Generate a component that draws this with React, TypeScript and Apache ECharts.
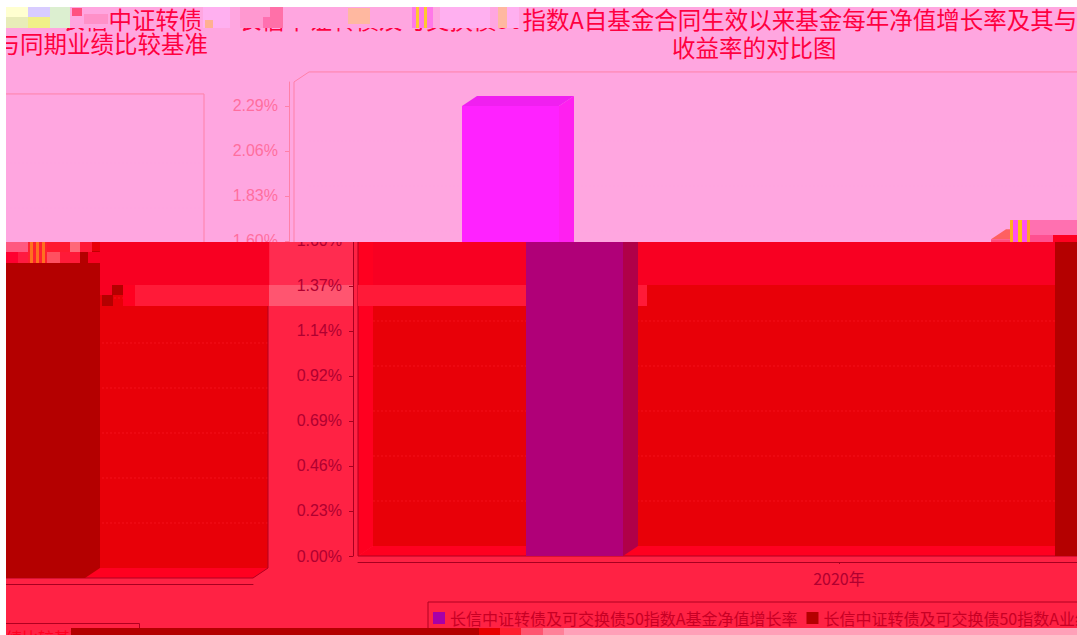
import React, { useEffect, useRef } from "react";
import * as echarts from "echarts";

const categories = ["2020年"];
const navName = "长信中证转债及可交换债50指数A基金净值增长率";
const benchName = "长信中证转债及可交换债50指数A业绩比较基准收益率";
const navValues = [2.288];
const benchValues = [1.61];
const tickValues = [0, 0.2288, 0.4576, 0.6864, 0.9152, 1.144, 1.3728, 1.6016, 1.8304, 2.0592, 2.288];
const lowerTickValues = [0, 0.2288, 0.4576, 0.6864, 0.9152, 1.144, 1.3728, 1.6016];
const plotTopValue = 2.41;

const titleLine1 = "长信中证转债及可交换债50指数A自基金合同生效以来基金每年净值增长率及其与";
const titleWrapped = "与同期业绩比较基准";
const titleLine2 = "收益率的对比图";
const titleFragment = "长信中证转债";
const legendWrapped = "绩比较基准收益率";

const PX_PER_UNIT = 196.7;
const BAND_Y = 242;
const WRAP_X = 1067;
const WRAP_Y = 22;
const UPPER_SHIFT = 64;
const PLOT_LEFT = 358;
const PLOT_W = 962;
const DEPTH_X = 15;
const DEPTH_Y = 10;
const BAR_W = 97;
const BAR_OFFSET = 313;
const SERIF = "'Noto Sans CJK SC', sans-serif";
const PINK = "#FFA6E0";
const CRIMSON = "#FF2244";

const upperPal = {
  back: PINK, side: PINK, edge: "#FF80A8", grid: PINK,
  nav: ["#FF22FF", "#FF20F0", "#F020F0"],
  bench: ["#FF5080", "#FF5080", "#FF6060"],
  axis: "#FF80A8", label: "#FF6E9E",
};
const lowerPal = {
  back: "#E80008", side: "#FF0020", edge: "#B00020", grid: "#F4101C",
  nav: ["#B00078", "#B00048", "#B00078"],
  bench: ["#B40000", "#B40000", "#B40000"],
  axis: "#A80020", label: "#B00030",
};

type Pal = typeof upperPal;

const wallRender = (pal: Pal, clip: boolean) => (params: any, api: any) => {
  const cs = params.coordSys;
  const l = cs.x;
  const r = cs.x + cs.width;
  const b = api.coord([0, 0])[1];
  const t = api.coord([0, plotTopValue])[1];
  const dx = DEPTH_X;
  const dy = DEPTH_Y;
  const children: any[] = [
    { type: "rect", shape: { x: l + dx, y: t - dy, width: r - l, height: b - t }, style: { fill: pal.back } },
    { type: "polygon", shape: { points: [[l, t], [l + dx, t - dy], [l + dx, b - dy], [l, b]] }, style: { fill: pal.side } },
    { type: "polygon", shape: { points: [[l, b], [l + dx, b - dy], [r + dx, b - dy], [r, b]] }, style: { fill: pal.side } },
  ];
  tickValues.slice(1).forEach((v) => {
    const y = api.coord([0, v])[1] - dy;
    children.push({
      type: "line",
      shape: { x1: l + dx, y1: y, x2: r + dx, y2: y },
      style: { stroke: pal.grid, lineWidth: 1, lineDash: [2, 2] },
    });
  });
  children.push({
    type: "polygon",
    shape: { points: [[l, b], [l, t], [l + dx, t - dy], [r + dx, t - dy], [r + dx, b - dy], [r, b]] },
    style: { fill: "none", stroke: pal.edge, lineWidth: 1 },
  });
  const g: any = { type: "group", children };
  if (clip) g.clipPath = { type: "rect", shape: { x: -2000, y: BAND_Y, width: 5000, height: 1000 } };
  return g;
};

const barRender = (faces: string[], offset: number, clip: boolean) => (_: any, api: any) => {
  const c = api.coord([api.value(0), api.value(1)]);
  const y0 = api.coord([api.value(0), 0])[1];
  const x = c[0] + offset;
  const w = BAR_W;
  const dx = DEPTH_X;
  const dy = DEPTH_Y;
  const g: any = {
    type: "group",
    children: [
      { type: "polygon", shape: { points: [[x + w, c[1]], [x + w + dx, c[1] - dy], [x + w + dx, y0 - dy], [x + w, y0]] }, style: { fill: faces[1] } },
      { type: "polygon", shape: { points: [[x, c[1]], [x + dx, c[1] - dy], [x + w + dx, c[1] - dy], [x + w, c[1]]] }, style: { fill: faces[2] } },
      { type: "rect", shape: { x, y: c[1], width: w, height: y0 - c[1] }, style: { fill: faces[0] } },
    ],
  };
  if (clip) g.clipPath = { type: "rect", shape: { x: -2000, y: BAND_Y, width: 5000, height: 1000 } };
  return g;
};

const panels = [
  { left: PLOT_LEFT - UPPER_SHIFT, top: 82, bottomY: 556, pal: upperPal, lower: false, yShow: true, xShow: false, xLabel: false, z: 1 },
  { left: PLOT_LEFT - UPPER_SHIFT - WRAP_X, top: 82 + WRAP_Y, bottomY: 556 + WRAP_Y, pal: upperPal, lower: false, yShow: false, xShow: false, xLabel: false, z: 1 },
  { left: PLOT_LEFT, top: 240, bottomY: 556, pal: lowerPal, lower: true, yShow: true, xShow: true, xLabel: true, z: 7 },
  { left: PLOT_LEFT - WRAP_X, top: BAND_Y, bottomY: 556 + WRAP_Y, pal: lowerPal, lower: true, yShow: false, xShow: true, xLabel: false, z: 7 },
];

// [x, y, width, height, colour]
const upperNoise: [number, number, number, number, string][] = [
  [70, 7, 38, 21, PINK], [72, 8, 10, 8, "#FF5080"], [84, 14, 24, 10, "#FF90C8"],
  [6, 7, 22, 10, "#FFFFD0"], [6, 17, 22, 11, "#E8ECB8"], [28, 7, 22, 10, "#D8CCFF"], [28, 17, 22, 11, "#F0F088"], [50, 7, 20, 21, "#DCEFD0"],
  [200, 7, 322, 21, PINK], [203, 7, 27, 21, "#FFB0F0"], [205, 20, 8, 8, "#FFB090"],
  [240, 7, 37, 21, "#FF98D0"], [263, 17, 14, 11, "#FF70B0"], [270, 7, 13, 21, "#FF70A8"],
  [348, 8, 22, 16, "#FFB8A0"], [412, 7, 21, 21, "#FF78E8"], [416, 7, 3, 21, "#FFC830"], [424, 7, 3, 21, "#FFC830"],
  [440, 7, 50, 21, "#FFB0F0"], [498, 7, 9, 21, "#FFB8A0"], [507, 7, 12, 21, "#FFB0F0"],
  [1010, 220, 3, 22, "#FFB020"], [1013, 220, 5, 22, "#FF50F0"], [1018, 220, 4, 22, "#FFC010"], [1022, 220, 5, 22, "#FF50F0"], [1027, 220, 3, 22, "#FFA030"],
  [1030, 220, 47, 15, "#FF70B0"], [1030, 235, 23, 7, "#FF5090"], [1053, 235, 24, 7, "#FF0020"],
];

const lowerShades: [number, number, number, number, string][] = [
  [100, 242, 169, 43, "#F80022"], [373, 242, 700, 43, "#F80022"],
  [270, 242, 83, 43, "#FF2C50"],
  [135, 285, 134, 21, "#FF1A38"], [269, 285, 84, 21, "#FF5570"], [358, 285, 168, 21, "#FF1A38"], [638, 285, 9, 21, "#FF1A38"],
];

const lowerNoise: [number, number, number, number, string][] = [
  [6, 242, 22, 10, "#FF5880"], [6, 252, 12, 11, "#FF0030"], [18, 252, 10, 11, "#FF1A40"],
  [28, 242, 19, 21, "#FF2030"], [30, 242, 3, 21, "#FF7020"], [36, 242, 3, 21, "#FF7020"], [42, 242, 3, 21, "#FF7020"],
  [47, 242, 33, 10, "#FF1A30"], [47, 252, 13, 11, "#FF5060"], [60, 252, 20, 11, "#FF1A38"],
  [70, 242, 11, 10, "#FF6878"], [80, 252, 8, 11, "#B40000"], [80, 242, 12, 10, "#FF1A38"], [88, 252, 12, 11, "#F80022"],
  [100, 285, 12, 10, "#F80022"], [112, 285, 11, 10, "#B40000"], [102, 295, 11, 11, "#B40000"], [123, 285, 12, 21, "#FF0020"],
];

const bottomStrip: [number, number, number, number, string][] = [
  [71, 628, 408, 7, "#B40000"], [479, 628, 21, 7, "#E80000"], [500, 628, 21, 7, "#FF1F2F"],
  [521, 628, 22, 7, "#FF5570"], [543, 628, 21, 7, "#FF8098"], [564, 628, 513, 7, "#FFA0B8"],
];

const toRects = (list: [number, number, number, number, string][], z: number) =>
  list.map(([x, y, width, height, fill]) => ({
    type: "rect", silent: true, z,
    shape: { x, y, width, height },
    style: { fill },
  }));

const label = (text: string, x: number, y: number, size: number, fill: string, z: number) => ({
  type: "text", silent: true, z, x, y,
  style: { text, fontSize: size, fill, fontFamily: SERIF, textAlign: "left", textVerticalAlign: "middle" },
});

export default function App() {
  const ref = useRef<HTMLDivElement>(null);
  useEffect(() => {
    const chart = echarts.init(ref.current!, undefined, { renderer: "svg" });
    const grid = panels.map((p) => ({
      left: p.left, top: p.top, width: PLOT_W, height: p.bottomY - p.top,
      containLabel: false, outerBoundsMode: "none",
    }));
    const xAxis = panels.map((p, i) => ({
      type: "category", gridIndex: i, data: categories, position: "bottom", offset: 6, z: p.z + 3,
      show: p.xShow,
      axisLine: { show: true, onZero: false, lineStyle: { color: p.pal.axis, width: 1 } },
      axisTick: { show: p.xLabel, alignWithLabel: true, length: 2, lineStyle: { color: p.pal.axis } },
      axisLabel: { show: p.xLabel, fontSize: 16, color: p.pal.label, margin: 8, fontFamily: SERIF },
    }));
    const yAxis = panels.map((p, i) => {
      const ticks = p.lower ? lowerTickValues : tickValues;
      return {
        type: "value", gridIndex: i, min: 0, max: (p.bottomY - p.top) / PX_PER_UNIT, offset: 5, z: p.z + 3,
        show: p.yShow,
        splitLine: { show: false },
        axisLine: { show: true, lineStyle: { color: p.pal.axis, width: 1 } },
        axisTick: { show: true, length: 4, customValues: ticks, lineStyle: { color: p.pal.axis } },
        axisLabel: {
          customValues: ticks, fontSize: 16, color: p.pal.label, margin: 11, fontFamily: "'Liberation Sans', sans-serif",
          formatter: (v: number) => v.toFixed(2) + "%",
        },
      };
    });
    const series: any[] = [];
    panels.forEach((p, i) => {
      series.push({
        type: "custom", name: "wall" + i, xAxisIndex: i, yAxisIndex: i, z: p.z, silent: true, clip: false,
        data: [[0, 0]], encode: { x: 0, y: 1 }, renderItem: wallRender(p.pal, p.lower),
      });
      series.push({
        type: "custom", name: navName, xAxisIndex: i, yAxisIndex: i, z: p.z + 2, silent: true, clip: false,
        itemStyle: { color: "#A800A8" },
        data: navValues.map((v, k) => [k, v]), encode: { x: 0, y: 1 },
        renderItem: barRender(p.pal.nav, -BAR_OFFSET, p.lower),
      });
      series.push({
        type: "custom", name: benchName, xAxisIndex: i, yAxisIndex: i, z: p.z + 2, silent: true, clip: false,
        itemStyle: { color: "#B40000" },
        data: benchValues.map((v, k) => [k, v]), encode: { x: 0, y: 1 },
        renderItem: barRender(p.pal.bench, BAR_OFFSET - BAR_W, p.lower),
      });
    });
    chart.setOption({
      animation: false,
      backgroundColor: PINK,
      title: {
        text: titleLine1, left: 238, top: 7, padding: 0, z: 4,
        textStyle: { fontSize: 23.5, fontWeight: "normal", color: "#FF0040", fontFamily: SERIF },
      },
      legend: {
        left: 428, top: 602, width: 2000, padding: [8, 4, 8, 5], itemGap: 9,
        itemWidth: 12, itemHeight: 12, borderColor: "#B00020", borderWidth: 1, z: 12, selectedMode: false,
        icon: "rect",
        textStyle: { fontSize: 16, color: "#C80024", fontFamily: SERIF },
        data: [
          { name: navName, itemStyle: { color: "#A800A8" } },
          { name: benchName, itemStyle: { color: "#B40000" } },
        ],
      },
      grid, xAxis, yAxis, series,
      graphic: {
        elements: [
          label(titleFragment, 61.5, 19, 23.5, "#FF0040", 4),
          label(titleWrapped, -3.5, 43, 23.5, "#FF0040", 4),
          label(titleLine2, 672, 47, 23.5, "#FF0040", 4),
          ...toRects(upperNoise, 5),
          { type: "rect", silent: true, z: 6, shape: { x: 0, y: BAND_Y, width: 1077, height: 393 }, style: { fill: CRIMSON } },
          ...toRects(lowerShades, 8),
          ...toRects([[295, 226, 67, 16, PINK]], 11),
          ...toRects(lowerNoise, 11),
          { type: "rect", silent: true, z: 12, shape: { x: -10, y: 623.5, width: 149.5, height: 30 }, style: { fill: "none", stroke: "#B00020", lineWidth: 1 } },
          label(legendWrapped, 6, 637, 16, "#FF0020", 12),
          ...toRects(bottomStrip, 13),
          { type: "rect", silent: true, z: 14, shape: { x: 0, y: 0, width: 1077, height: 7 }, style: { fill: "#FFFFFF" } },
          { type: "rect", silent: true, z: 14, shape: { x: 0, y: 0, width: 6, height: 635 }, style: { fill: "#FFFFFF" } },
        ],
      },
    });
    return () => chart.dispose();
  }, []);
  return <div ref={ref} style={{ position: "fixed", left: 0, top: 0, width: 1077, height: 635 }} />;
}
